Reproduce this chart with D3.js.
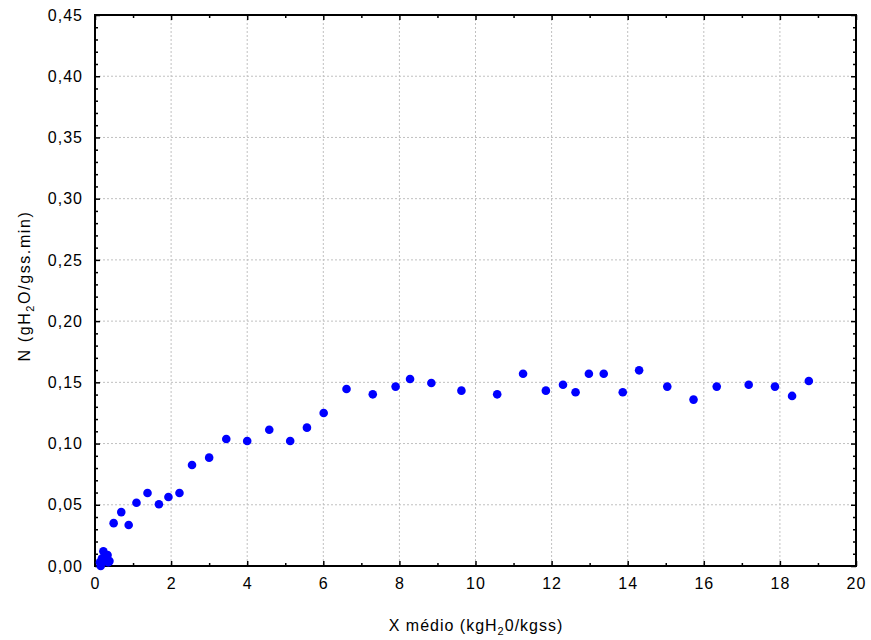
<!DOCTYPE html>
<html>
<head>
<meta charset="utf-8">
<script src="https://cdn.jsdelivr.net/npm/d3@7"></script>
<style>
  body { margin: 0; background: #fff; }
  text { font-family: "Liberation Sans", Arial, sans-serif; fill: #000; }
</style>
</head>
<body>
<div id="chart"></div>
<script>
const F_WIDTH = 871;
const F_HEIGHT = 640;
const MARGINS = {left: 95, right: 15, top: 15, bottom: 74};

const VIS_WIDTH = F_WIDTH - MARGINS.left - MARGINS.right;
const VIS_HEIGHT = F_HEIGHT - MARGINS.top - MARGINS.bottom;

// data
const xValues = [0.13, 0.18, 0.22, 0.28, 0.33, 0.38, 0.25, 0.15, 0.35,
  0.49, 0.69, 0.885, 1.09, 1.38, 1.68, 1.93, 2.22, 2.55, 3.0, 3.45, 4.0,
  4.58, 5.13, 5.57, 6.01, 6.61, 7.30, 7.90, 8.28, 8.84, 9.63, 10.57, 11.25,
  11.85, 12.30, 12.63, 12.98, 13.37, 13.87, 14.30, 15.04, 15.73, 16.34,
  17.18, 17.87, 18.32, 18.76];
const yValues = [0.003, 0.006, 0.012, 0.008, 0.009, 0.004, 0.004, 0.0, 0.003,
  0.035, 0.044, 0.0335, 0.0517, 0.0596, 0.0504, 0.0563, 0.0596, 0.0825, 0.0885, 0.1037, 0.1021,
  0.1113, 0.1021, 0.113, 0.125, 0.1446, 0.1402, 0.1465, 0.1527, 0.1495, 0.1432, 0.1402, 0.157,
  0.1432, 0.148, 0.1419, 0.157, 0.157, 0.1419, 0.1598, 0.1465, 0.1359, 0.1465,
  0.148, 0.1465, 0.1389, 0.1511];
const xTicks = [0, 2, 4, 6, 8, 10, 12, 14, 16, 18, 20];
const yTicks = [0, 0.05, 0.10, 0.15, 0.20, 0.25, 0.30, 0.35, 0.40, 0.45];

const points = xValues.map((x, i) => ({x: x, y: yValues[i]}));

const FRAME = d3.select("#chart")
  .append("svg")
    .attr("width", F_WIDTH)
    .attr("height", F_HEIGHT);

const X_SCALE = d3.scaleLinear().domain([0, 20]).range([0, VIS_WIDTH]);
const Y_SCALE = d3.scaleLinear().domain([0, 0.45]).range([VIS_HEIGHT, 0]);

const fmt = (d) => d3.format(".2f")(d).replace(".", ",");

const G = FRAME.append("g")
  .attr("transform", "translate(" + MARGINS.left + "," + MARGINS.top + ")");

// dotted grid
G.append("g").selectAll("line")
  .data(xTicks.slice(1, -1))
  .enter().append("line")
    .attr("x1", (d) => X_SCALE(d)).attr("x2", (d) => X_SCALE(d))
    .attr("y1", 0).attr("y2", VIS_HEIGHT)
    .attr("stroke", "#c0c0c0").attr("stroke-dasharray", "2,2");
G.append("g").selectAll("line")
  .data(yTicks.slice(1, -1))
  .enter().append("line")
    .attr("y1", (d) => Y_SCALE(d)).attr("y2", (d) => Y_SCALE(d))
    .attr("x1", 0).attr("x2", VIS_WIDTH)
    .attr("stroke", "#c0c0c0").attr("stroke-dasharray", "2,2");

// axes with inward ticks
const xMinor = d3.range(1, 20, 2);
const yMinor = d3.range(0, 46).filter((d) => d % 5 !== 0).map((d) => d / 100);

function styleAxis(g) {
  g.select(".domain").remove();
  g.selectAll(".tick line").attr("stroke", "#000").attr("stroke-width", 1.5);
  g.selectAll("text")
    .style("font-size", "16px")
    .style("letter-spacing", "1px")
    .style("font-family", "'Liberation Sans', Arial, sans-serif");
}

G.append("g")
  .attr("transform", "translate(0," + VIS_HEIGHT + ")")
  .call(d3.axisBottom(X_SCALE).tickValues(xTicks).tickSize(-5).tickPadding(12))
  .call(styleAxis);
G.append("g")
  .attr("transform", "translate(0," + VIS_HEIGHT + ")")
  .call(d3.axisBottom(X_SCALE).tickValues(xMinor).tickSize(-3).tickFormat(""))
  .call(styleAxis);
G.append("g")
  .call(d3.axisTop(X_SCALE).tickValues(xTicks).tickSize(-5).tickFormat(""))
  .call(styleAxis);
G.append("g")
  .call(d3.axisTop(X_SCALE).tickValues(xMinor).tickSize(-3).tickFormat(""))
  .call(styleAxis);

G.append("g")
  .call(d3.axisLeft(Y_SCALE).tickValues(yTicks).tickSize(-5).tickPadding(12).tickFormat(fmt))
  .call(styleAxis);
G.append("g")
  .call(d3.axisLeft(Y_SCALE).tickValues(yMinor).tickSize(-3).tickFormat(""))
  .call(styleAxis);
G.append("g")
  .attr("transform", "translate(" + VIS_WIDTH + ",0)")
  .call(d3.axisRight(Y_SCALE).tickValues(yTicks).tickSize(-5).tickFormat(""))
  .call(styleAxis);
G.append("g")
  .attr("transform", "translate(" + VIS_WIDTH + ",0)")
  .call(d3.axisRight(Y_SCALE).tickValues(yMinor).tickSize(-3).tickFormat(""))
  .call(styleAxis);

// frame
G.append("rect")
  .attr("x", 0).attr("y", 0)
  .attr("width", VIS_WIDTH).attr("height", VIS_HEIGHT)
  .attr("fill", "none").attr("stroke", "#000").attr("stroke-width", 2);

// points
G.selectAll("circle")
  .data(points)
  .enter().append("circle")
    .attr("cx", (d) => X_SCALE(d.x))
    .attr("cy", (d) => Y_SCALE(d.y))
    .attr("r", 4.3)
    .attr("fill", "#0000ff");

// axis titles
const xt = FRAME.append("text")
  .attr("x", 476)
  .attr("y", 631)
  .attr("text-anchor", "middle")
  .style("font-size", "16px")
  .style("letter-spacing", "1px");
xt.append("tspan").text("X médio (kgH");
xt.append("tspan").attr("dy", 4).style("font-size", "11px").text("2");
xt.append("tspan").attr("dy", -4).text("0/kgss)");

const yt = FRAME.append("text")
  .attr("transform", "translate(30,286) rotate(-90)")
  .attr("text-anchor", "middle")
  .style("font-size", "16px")
  .style("letter-spacing", "1.6px");
yt.append("tspan").text("N (gH");
yt.append("tspan").attr("dy", 4).style("font-size", "11px").text("2");
yt.append("tspan").attr("dy", -4).text("O/gss.min)");
</script>
</body>
</html>
